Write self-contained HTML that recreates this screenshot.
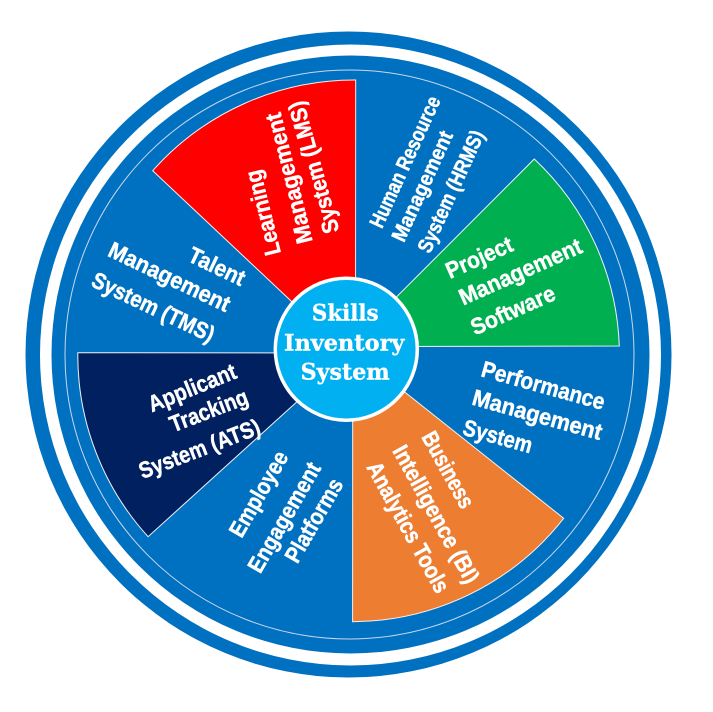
<!DOCTYPE html>
<html>
<head>
<meta charset="utf-8">
<style>
html,body{margin:0;padding:0;background:#ffffff;}
svg{display:block;}
.t{font-family:"Liberation Sans",Arial,sans-serif;font-weight:bold;fill:#ffffff;font-size:23px;stroke:#ffffff;stroke-width:0.45px;}
.h{font-size:21px;}
.c{font-family:"DejaVu Serif","Liberation Serif",serif;font-weight:bold;fill:#ffffff;font-size:22px;stroke:#ffffff;stroke-width:0.4px;}
</style>
</head>
<body>
<svg width="713" height="712" viewBox="0 0 713 712" xmlns="http://www.w3.org/2000/svg">
  <rect x="0" y="0" width="713" height="712" fill="#ffffff"/>
  <!-- outer ring -->
  <circle cx="348.5" cy="354.5" r="323" fill="#0070C0"/>
  <circle cx="350.5" cy="355" r="310.5" fill="#ffffff"/>
  <circle cx="350.5" cy="354.5" r="299" fill="#0070C0"/>
  <circle cx="349.5" cy="354.5" r="284.5" fill="none" stroke="#c9d8ee" stroke-width="1"/>

  <!-- colored sectors -->
  <path d="M355.5,361.7 L152.7,170.7 A270,270 0 0,1 355.7,80 Z" fill="#FF0000" stroke="#f2f2f2" stroke-width="1"/>
  <path d="M347,346.5 L534.3,159 A270,270 0 0,1 619.3,346 Z" fill="#00B050" stroke="#f2f2f2" stroke-width="1"/>
  <path d="M352.7,350.7 L563.7,518.3 A270,270 0 0,1 352.6,621.7 Z" fill="#ED7D31" stroke="#f2f2f2" stroke-width="1"/>
  <path d="M350.7,353 L148.1,536.7 A270,270 0 0,1 77.8,352.7 Z" fill="#002060" stroke="#f2f2f2" stroke-width="1"/>

  <!-- LMS -->
  <text class="t" transform="translate(273.3,255) rotate(-104)" dominant-baseline="central" textLength="87" lengthAdjust="spacingAndGlyphs">Learning</text>
  <text class="t" transform="translate(305,243.3) rotate(-104)" dominant-baseline="central" textLength="134" lengthAdjust="spacingAndGlyphs">Management</text>
  <text class="t" transform="translate(331.7,233) rotate(-105.5)" dominant-baseline="central" textLength="136" lengthAdjust="spacingAndGlyphs">System (LMS)</text>

  <!-- TMS -->
  <text class="t" transform="translate(190,253.3) rotate(25.5)" dominant-baseline="central" textLength="60" lengthAdjust="spacingAndGlyphs">Talent</text>
  <text class="t" transform="translate(110,248.3) rotate(25.5)" dominant-baseline="central" textLength="132" lengthAdjust="spacingAndGlyphs">Management</text>
  <text class="t" transform="translate(93.3,278.3) rotate(25.5)" dominant-baseline="central" textLength="133" lengthAdjust="spacingAndGlyphs">System (TMS)</text>

  <!-- HRMS -->
  <text class="t h" transform="translate(376,226.7) rotate(-65.4)" dominant-baseline="central" textLength="142" lengthAdjust="spacingAndGlyphs">Human Resource</text>
  <text class="t h" transform="translate(398,240.5) rotate(-65.4)" dominant-baseline="central" textLength="119" lengthAdjust="spacingAndGlyphs">Management</text>
  <text class="t h" transform="translate(424,251.7) rotate(-65.4)" dominant-baseline="central" textLength="132" lengthAdjust="spacingAndGlyphs">System (HRMS)</text>

  <!-- Project -->
  <text class="t" transform="translate(446.7,271.7) rotate(-24)" dominant-baseline="central" textLength="71" lengthAdjust="spacingAndGlyphs">Project</text>
  <text class="t" transform="translate(460,298.3) rotate(-24)" dominant-baseline="central" textLength="132" lengthAdjust="spacingAndGlyphs">Management</text>
  <text class="t" transform="translate(471.7,328.3) rotate(-24)" dominant-baseline="central" textLength="90" lengthAdjust="spacingAndGlyphs">Software</text>

  <!-- Performance -->
  <text class="t" transform="translate(482.2,368.3) rotate(15.5)" dominant-baseline="central" textLength="127" lengthAdjust="spacingAndGlyphs">Performance</text>
  <text class="t" transform="translate(473,396.7) rotate(15.5)" dominant-baseline="central" textLength="133.6" lengthAdjust="spacingAndGlyphs">Management</text>
  <text class="t" transform="translate(463.7,426.7) rotate(15.5)" dominant-baseline="central" textLength="71" lengthAdjust="spacingAndGlyphs">System</text>

  <!-- BI -->
  <text class="t" transform="translate(428,433) rotate(61)" dominant-baseline="central" textLength="84" lengthAdjust="spacingAndGlyphs">Business</text>
  <text class="t" transform="translate(398.9,446.7) rotate(61)" dominant-baseline="central" textLength="154" lengthAdjust="spacingAndGlyphs">Intelligence (BI)</text>
  <text class="t" transform="translate(373,463.3) rotate(61)" dominant-baseline="central" textLength="146" lengthAdjust="spacingAndGlyphs">Analytics Tools</text>

  <!-- Employee -->
  <text class="t" transform="translate(282.2,452.7) rotate(-60)" text-anchor="end" dominant-baseline="central" textLength="95" lengthAdjust="spacingAndGlyphs">Employee</text>
  <text class="t" transform="translate(314.8,464) rotate(-60)" text-anchor="end" dominant-baseline="central" textLength="123" lengthAdjust="spacingAndGlyphs">Engagement</text>
  <text class="t" transform="translate(337,480) rotate(-60)" text-anchor="end" dominant-baseline="central" textLength="93" lengthAdjust="spacingAndGlyphs">Platforms</text>

  <!-- ATS -->
  <text class="t" transform="translate(148.9,405) rotate(-22)" dominant-baseline="central" textLength="93" lengthAdjust="spacingAndGlyphs">Applicant</text>
  <text class="t" transform="translate(170.4,425) rotate(-21)" dominant-baseline="central" textLength="82" lengthAdjust="spacingAndGlyphs">Tracking</text>
  <text class="t" transform="translate(139.6,471.7) rotate(-21)" dominant-baseline="central" textLength="128" lengthAdjust="spacingAndGlyphs">System (ATS)</text>

  <!-- center -->
  <circle cx="346.3" cy="349.2" r="71" fill="#00B0F0" stroke="#ffffff" stroke-width="3.5"/>
  <text class="c" x="345.2" y="320.5" text-anchor="middle" textLength="66.6" lengthAdjust="spacingAndGlyphs">Skills</text>
  <text class="c" x="344.2" y="350.5" text-anchor="middle" textLength="120.4" lengthAdjust="spacingAndGlyphs">Inventory</text>
  <text class="c" x="345.2" y="379.5" text-anchor="middle" textLength="89" lengthAdjust="spacingAndGlyphs">System</text>
</svg>
</body>
</html>
